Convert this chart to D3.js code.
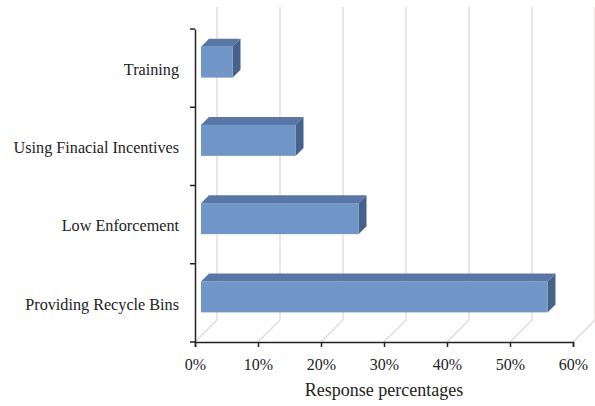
<!DOCTYPE html>
<html>
<head>
<meta charset="utf-8">
<script src="https://cdn.jsdelivr.net/npm/d3@7"></script>
<style>
  body { margin: 0; background: #fff; }
  text { font-family: "Liberation Serif", "Times New Roman", serif; fill: #222; }
</style>
</head>
<body>
<div id="chart"></div>
<script>
// categories top to bottom
let categories = ["Training", "Using Finacial Incentives", "Low Enforcement", "Providing Recycle Bins"];
let values = [0.05, 0.15, 0.25, 0.55];
let xTicks = [0, 0.1, 0.2, 0.3, 0.4, 0.5, 0.6];

let svgWidth = 595, svgHeight = 406;
let svg = d3.select("#chart").append("svg")
            .attr("width", svgWidth)
            .attr("height", svgHeight);

// front plane of the plot
let xScale = d3.scaleLinear().domain([0, 0.6]).range([195, 573]);
let yScale = d3.scaleBand().domain(categories).range([29, 342]);

// 3d depth of the walls and of the bars
let depth = 22;
let barFront = 6, barBack = 14;
let barH = 31;

// back wall gridlines + floor diagonals
let grid = svg.append("g");
grid.selectAll(".wall").data(xTicks).enter().append("line")
    .attr("x1", d => xScale(d) + depth).attr("x2", d => xScale(d) + depth)
    .attr("y1", 7).attr("y2", 342 - depth)
    .attr("stroke", "#e0d8d8").attr("stroke-width", 1.3);
grid.selectAll(".floor").data(xTicks).enter().append("line")
    .attr("x1", d => xScale(d)).attr("x2", d => xScale(d) + depth)
    .attr("y1", 342).attr("y2", 342 - depth)
    .attr("stroke", "#e0d8d8").attr("stroke-width", 1.3);

// bars
let bars = svg.append("g").selectAll("g").data(categories).enter().append("g");
function fy(c) { return yScale(c) + yScale.bandwidth() / 2 - barH / 2 - barFront; }
let x0 = xScale(0) + barFront;
let d = barBack - barFront;

bars.append("path") // top face
    .attr("d", (c, i) => {
      let y = fy(c), x1 = xScale(values[i]) + barFront;
      return `M${x0},${y}L${x0 + d},${y - d}L${x1 + d},${y - d}L${x1},${y}Z`;
    })
    .attr("fill", "#5877a6");
bars.append("path") // side face
    .attr("d", (c, i) => {
      let y = fy(c), x1 = xScale(values[i]) + barFront;
      return `M${x1},${y}L${x1 + d},${y - d}L${x1 + d},${y - d + barH}L${x1},${y + barH}Z`;
    })
    .attr("fill", "#46628c");
bars.append("rect") // front face
    .attr("x", x0)
    .attr("y", c => fy(c))
    .attr("width", (c, i) => xScale(values[i]) + barFront - x0)
    .attr("height", barH)
    .attr("fill", "#7196c8");

// axes
let xAxis = d3.axisBottom(xScale).tickValues(xTicks).tickFormat(d3.format(".0%")).tickSizeOuter(0).tickSize(5);
svg.append("g").attr("transform", "translate(0,342)").call(xAxis)
   .call(g => g.select(".domain").attr("stroke", "#222").attr("stroke-width", 1.5))
   .call(g => g.selectAll(".tick line").attr("stroke", "#222").attr("stroke-width", 1.5))
   .call(g => g.selectAll("text").attr("font-size", 16).attr("dy", "1.25em")
       .attr("font-family", "Liberation Serif").attr("fill", "#222"));

let yAxis = d3.axisLeft(yScale).tickSize(0).tickPadding(16).tickSizeOuter(0);
let yg = svg.append("g").attr("transform", "translate(195,0)").call(yAxis);
yg.select(".domain").attr("stroke", "#222").attr("stroke-width", 1.5);
yg.selectAll("text").attr("font-size", 16.2).attr("dy", "0.42em")
  .attr("font-family", "Liberation Serif").attr("fill", "#222");
// category boundary ticks
yg.selectAll(".bound").data([29, ...categories.map(c => yScale(c) + yScale.bandwidth())]).enter()
  .append("line").attr("x1", -5).attr("x2", 0).attr("y1", v => v).attr("y2", v => v)
  .attr("stroke", "#222").attr("stroke-width", 1.5);

svg.append("text")
   .attr("x", 384).attr("y", 396)
   .attr("text-anchor", "middle")
   .attr("font-size", 18)
   .text("Response percentages");
</script>
</body>
</html>
